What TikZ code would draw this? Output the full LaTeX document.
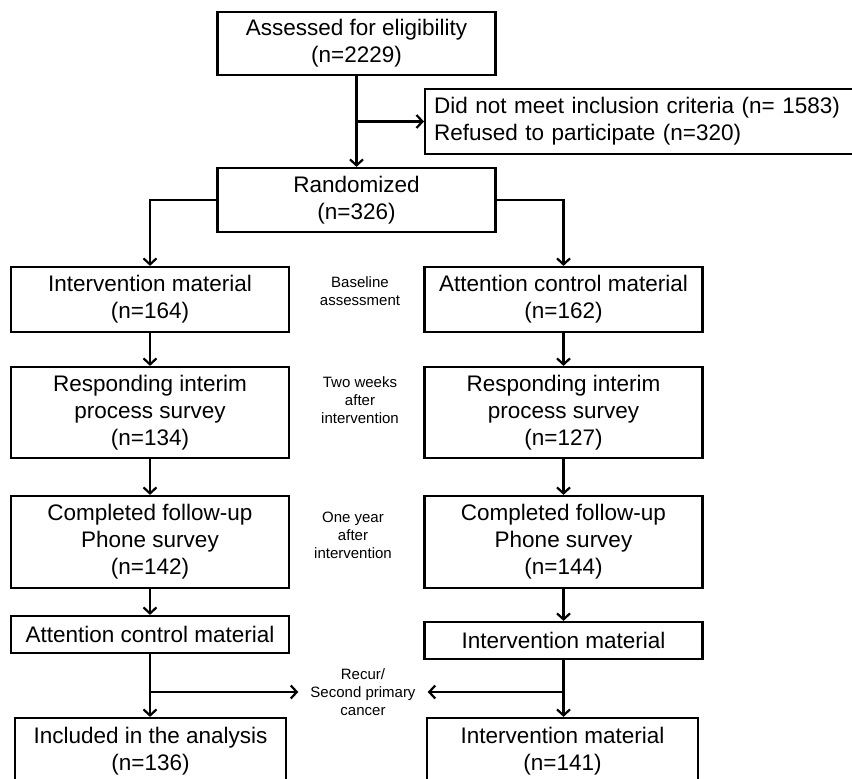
\documentclass[tikz,border=0pt]{standalone}
\usepackage{fontspec}
\setmainfont{Liberation Sans}
\usetikzlibrary{arrows.meta,positioning}

\begin{document}
\begin{tikzpicture}[x=1pt,y=-1pt,
  box/.style={draw,line width=2.2pt,minimum width=278pt,inner sep=4pt,align=center,font=\fontsize{22.5}{27}\selectfont},
  note/.style={align=center,font=\fontsize{15}{18}\selectfont},
  arr/.style={line width=2.2pt,-{Straight Barb[length=6pt,width=13pt,line width=2.2pt]}}]
\useasboundingbox (0,0) rectangle (852,779);
\clip (0,0) rectangle (852,779);
% top of the chart
\node[box,minimum height=63pt] (elig) at (356.5,43.5) {Assessed for eligibility\\(n=2229)};
\node[box,anchor=west,align=left,text width=430pt,inner xsep=9pt,minimum height=65pt] (excl) at (424,121.5) {Did not meet inclusion criteria (n= 1583)\\Refused to participate (n=320)};
\node[box,minimum height=64pt] (rand) at (356.5,200) {Randomized\\(n=326)};
% two arms
\node[box,minimum height=65pt] (L1) at (150,299.5) {Intervention material\\(n=164)};
\node[box,minimum height=65pt] (R1) at (563.5,299.5) {Attention control material\\(n=162)};
\node[box,minimum height=91pt] (L2) at (150,412.5) {Responding interim\\process survey\\(n=134)};
\node[box,minimum height=91pt] (R2) at (563.5,412.5) {Responding interim\\process survey\\(n=127)};
\node[box,minimum height=92pt] (L3) at (150,542) {Completed follow-up\\Phone survey\\(n=142)};
\node[box,minimum height=92pt] (R3) at (563.5,542) {Completed follow-up\\Phone survey\\(n=144)};
\node[box,minimum height=37pt] (L4) at (150,634.5) {Attention control material};
\node[box,minimum height=37pt] (R4) at (563.5,640.5) {Intervention material};
\node[box,minimum width=271pt,minimum height=66pt] (L5) at (150.5,751) {Included in the analysis\\(n=136)};
\node[box,minimum width=271pt,minimum height=66pt] (R5) at (562.5,751) {Intervention material\\(n=141)};
% time points
\node[note] (base) at (360,291) {Baseline\\assessment};
\node[note] (twow) at (360,400) {Two weeks\\after\\intervention};
\node[note] (oney) at (353,535) {One year\\after\\intervention};
\node[note,inner xsep=12pt] (recur) at (363,692) {Recur/\\Second primary\\cancer};
% connectors
\draw[arr] (elig.south) -- (rand.north);
\draw[arr] (elig.south |- excl.west) -- (excl.west);
\draw[arr] (rand.west) -| (L1.north);
\draw[arr] (rand.east) -| (R1.north);
\foreach \a/\b in {L1/L2,L2/L3,L3/L4,L4/L5,R1/R2,R2/R3,R3/R4} {\draw[arr] (\a.south) -- (\a.south |- \b.north);}
\draw[arr] (R4.south) -- (R4.south |- R5.north);
\draw[arr] (L4.south |- recur.west) -- (recur.west);
\draw[arr] (R4.south |- recur.east) -- (recur.east);
\end{tikzpicture}
\end{document}
